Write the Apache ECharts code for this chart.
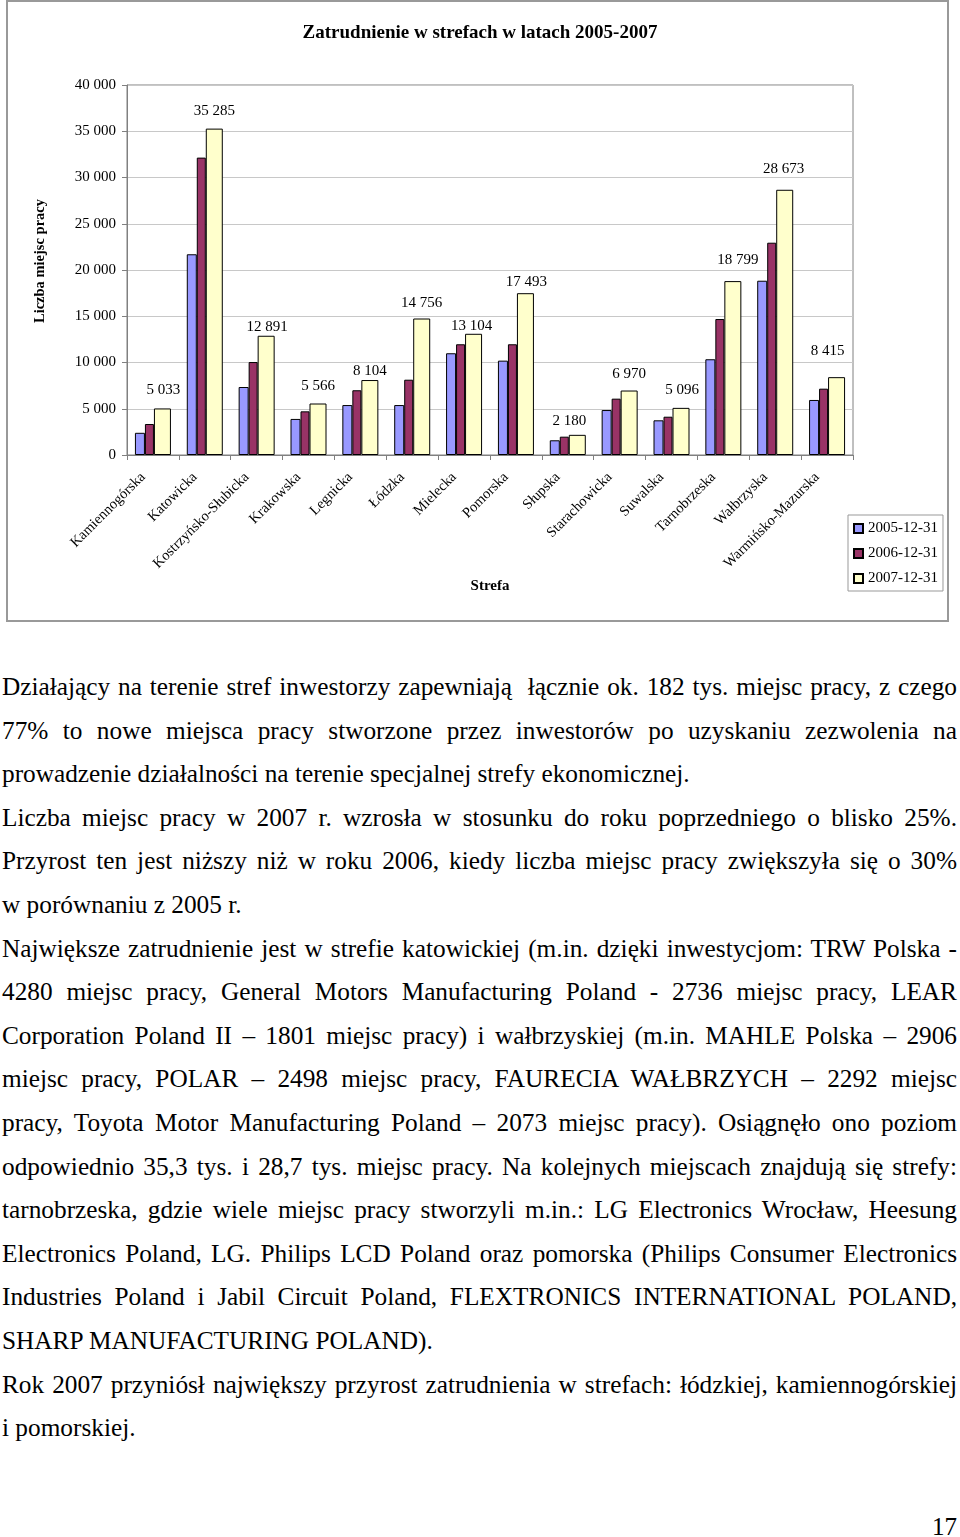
<!DOCTYPE html>
<html>
<head>
<meta charset="utf-8">
<script src="https://cdn.jsdelivr.net/npm/echarts@6/dist/echarts.min.js"></script>
<style>
  html, body { margin: 0; padding: 0; background: #fff; }
  body { width: 960px; height: 1537px; position: relative; overflow: hidden; }
  #chart { position: absolute; left: 0; top: 0; width: 960px; height: 625px; }
  #text { position: absolute; left: 2px; top: 665px; width: 955px;
          font-family: "Liberation Serif", "Times New Roman", serif; font-size: 25.3px;
          line-height: 43.6px; color: #000; }
  #text .l { text-align: justify; text-align-last: justify; white-space: nowrap; }
  #text .e { text-align: left; white-space: nowrap; }
  #pg { position: absolute; right: 3px; top: 1514px; font-family: "Liberation Serif", serif; font-size: 25px; line-height: 26px; }
</style>
</head>
<body>
<div id="chart"></div>
<div id="text">
  <div class="l">Działający na terenie stref inwestorzy zapewniają&nbsp; łącznie ok. 182 tys. miejsc pracy, z czego</div>
  <div class="l">77% to nowe miejsca pracy stworzone przez inwestorów po uzyskaniu zezwolenia na</div>
  <div class="e">prowadzenie działalności na terenie specjalnej strefy ekonomicznej.</div>
  <div class="l">Liczba miejsc pracy w 2007 r. wzrosła w stosunku do roku poprzedniego o blisko 25%.</div>
  <div class="l">Przyrost ten jest niższy niż w roku 2006, kiedy liczba miejsc pracy zwiększyła się o 30%</div>
  <div class="e">w porównaniu z 2005 r.</div>
  <div class="l">Największe zatrudnienie jest w strefie katowickiej (m.in. dzięki inwestycjom: TRW Polska -</div>
  <div class="l">4280 miejsc pracy, General Motors Manufacturing Poland - 2736 miejsc pracy, LEAR</div>
  <div class="l">Corporation Poland II – 1801 miejsc pracy) i wałbrzyskiej (m.in. MAHLE Polska – 2906</div>
  <div class="l">miejsc pracy, POLAR – 2498 miejsc pracy, FAURECIA WAŁBRZYCH – 2292 miejsc</div>
  <div class="l">pracy, Toyota Motor Manufacturing Poland – 2073 miejsc pracy). Osiągnęło ono poziom</div>
  <div class="l">odpowiednio 35,3 tys. i 28,7 tys. miejsc pracy. Na kolejnych miejscach znajdują się strefy:</div>
  <div class="l">tarnobrzeska, gdzie wiele miejsc pracy stworzyli m.in.: LG Electronics Wrocław, Heesung</div>
  <div class="l">Electronics Poland, LG. Philips LCD Poland oraz pomorska (Philips Consumer Electronics</div>
  <div class="l">Industries Poland i Jabil Circuit Poland, FLEXTRONICS INTERNATIONAL POLAND,</div>
  <div class="e">SHARP MANUFACTURING POLAND).</div>
  <div class="l">Rok 2007 przyniósł największy przyrost zatrudnienia w strefach: łódzkiej, kamiennogórskiej</div>
  <div class="e">i pomorskiej.</div>
</div>
<div id="pg">17</div>
<script>
const categories = ['Kamiennogórska', 'Katowicka', 'Kostrzyńsko-Słubicka', 'Krakowska', 'Legnicka', 'Łódzka',
  'Mielecka', 'Pomorska', 'Słupska', 'Starachowicka', 'Suwalska', 'Tarnobrzeska', 'Wałbrzyska', 'Warmińsko-Mazurska'];
const seriesNames = ['2005-12-31', '2006-12-31', '2007-12-31'];
const values2005 = [2400, 21700, 7350, 3900, 5400, 5400, 11000, 10200, 1590, 4860, 3750, 10350, 18840, 5950];
const values2006 = [3350, 32150, 10050, 4720, 7000, 8140, 11970, 11970, 1980, 6090, 4140, 14700, 22950, 7170];
const values2007 = [5033, 35285, 12891, 5566, 8104, 14756, 13104, 17493, 2180, 6970, 5096, 18799, 28673, 8415];
const yTickLabels = ['0', '5 000', '10 000', '15 000', '20 000', '25 000', '30 000', '35 000', '40 000'];
// label nudges for the 2007 value labels (horizontal shift, height above bar top)
const labelDx = [1, 0, 1, 0, 0, 0, -2, 1, -8, 0, 1, 5, -1, -9];
const labelUp = [11, 10, 1, 10, 1, 8, 0, 4, 6, 9, 10, 14, 13, 19];

const FONT = '"Liberation Serif", "Times New Roman", serif';
const fmt = v => String(v).replace(/\B(?=(\d{3})+(?!\d))/g, ' ');
const colors = ['#9999FF', '#993366', '#FFFFCC'];
const widths = [10, 9, 17];
const allValues = [values2005, values2006, values2007];

const chart = echarts.init(document.getElementById('chart'), null, { renderer: 'canvas' });
const series = seriesNames.map((name, si) => ({
  name: name,
  type: 'bar',
  barWidth: widths[si],
  barGap: '0%',
  itemStyle: { color: colors[si], borderColor: '#000', borderWidth: 1 },
  emphasis: { disabled: true },
  data: allValues[si].map((v, i) => {
    if (si !== 2) return v;
    return { value: v, label: { offset: [labelDx[i], -labelUp[i]] } };
  }),
  label: si === 2 ? {
    show: true, position: 'top', distance: 0, color: '#000',
    fontFamily: FONT, fontSize: 15,
    formatter: p => fmt(p.value)
  } : { show: false }
}));

chart.setOption({
  animation: false,
  backgroundColor: '#fff',
  title: {
    text: 'Zatrudnienie w strefach w latach 2005-2007',
    left: 'center', top: 19,
    textStyle: { fontFamily: FONT, fontSize: 19, fontWeight: 'bold', color: '#000' }
  },
  graphic: [{
    type: 'rect', silent: true, z: -1,
    shape: { x: 7, y: 1, width: 941, height: 620 },
    style: { fill: 'none', stroke: '#999', lineWidth: 2 }
  }],
  legend: {
    orient: 'vertical', left: 848, top: 515,
    borderColor: '#999', borderWidth: 1,
    padding: [6, 5, 5, 5], itemGap: 10,
    itemWidth: 9, itemHeight: 9, icon: 'rect',
    textStyle: { fontFamily: FONT, fontSize: 15, color: '#000' },
    data: seriesNames
  },
  grid: {
    left: 127, right: 107, top: 85, bottom: 170,
    show: true, borderColor: '#808080', borderWidth: 1
  },
  xAxis: {
    type: 'category',
    data: categories,
    name: 'Strefa', nameLocation: 'middle', nameGap: 123,
    nameTextStyle: { fontFamily: FONT, fontSize: 15, fontWeight: 'bold', color: '#000' },
    axisLine: { lineStyle: { color: '#808080' } },
    axisTick: { show: true, alignWithLabel: false, length: 5, lineStyle: { color: '#808080' } },
    axisLabel: { interval: 0, rotate: 45, margin: 10, padding: [0, 14, 0, 0],
      fontFamily: FONT, fontSize: 14.5, color: '#000' }
  },
  yAxis: {
    type: 'value', min: 0, max: 40000, interval: 5000,
    name: 'Liczba miejsc pracy', nameLocation: 'middle', nameGap: 79, nameRotate: 90,
    nameTextStyle: { fontFamily: FONT, fontSize: 14.5, fontWeight: 'bold', color: '#000', padding: [0, 0, 0, 18] },
    axisLine: { show: true, lineStyle: { color: '#808080' } },
    axisTick: { show: true, length: 5, lineStyle: { color: '#808080' } },
    splitLine: { lineStyle: { color: '#c8c8c8' } },
    axisLabel: { margin: 11, fontFamily: FONT, fontSize: 15, color: '#000',
      formatter: (v) => yTickLabels[Math.round(v / 5000)] }
  },
  series: series
});
</script>
</body>
</html>
